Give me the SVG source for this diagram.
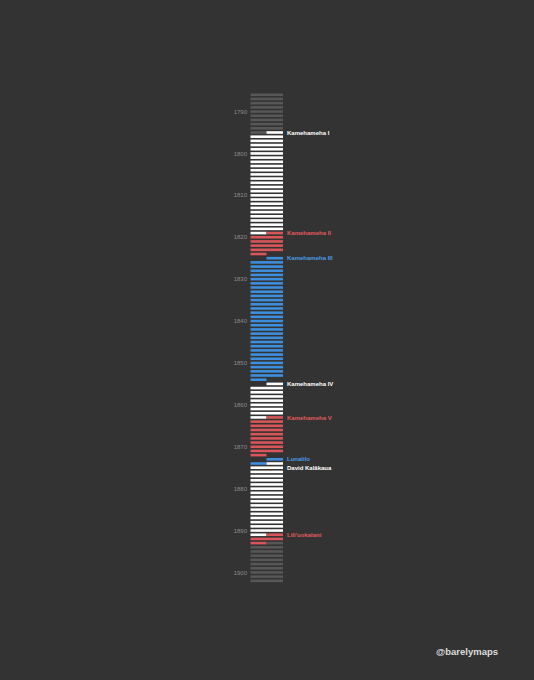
<svg xmlns="http://www.w3.org/2000/svg" width="534" height="680" viewBox="0 0 534 680">
<style>
.g{fill:#575757}.w{fill:#ffffff}.r{fill:#d8555a}.b{fill:#3d8fdd}
.yr{font-family:"Liberation Sans",Arial,sans-serif;font-size:6px;fill:#8c8c8c;text-anchor:end}
.nm{font-family:"Liberation Sans",Arial,sans-serif;font-size:6px;font-weight:bold}
.tw{fill:#ffffff}.tr{fill:#e05a5e}.tb{fill:#4a9be6}
</style>
<rect x="0" y="0" width="534" height="680" fill="#333333"/>
<g id="timeline" transform="translate(0,131.2) scale(1,4.19)">
<g id="pre-kingdom">
<rect class="g" x="250.5" y="-9" width="32.5" height="0.62"/>
<rect class="g" x="250.5" y="-8" width="32.5" height="0.62"/>
<rect class="g" x="250.5" y="-7" width="32.5" height="0.62"/>
<rect class="g" x="250.5" y="-6" width="32.5" height="0.62"/>
<rect class="g" x="250.5" y="-5" width="32.5" height="0.62"/>
<rect class="g" x="250.5" y="-4" width="32.5" height="0.62"/>
<rect class="g" x="250.5" y="-3" width="32.5" height="0.62"/>
<rect class="g" x="250.5" y="-2" width="32.5" height="0.62"/>
<rect class="g" x="250.5" y="-1" width="32.5" height="0.62"/>
<rect class="g" x="250.5" y="0" width="16" height="0.62"/>
</g>
<g id="kamehameha-i">
<rect class="w" x="266.5" y="0" width="16.5" height="0.62"/>
<rect class="w" x="250.5" y="1" width="32.5" height="0.62"/>
<rect class="w" x="250.5" y="2" width="32.5" height="0.62"/>
<rect class="w" x="250.5" y="3" width="32.5" height="0.62"/>
<rect class="w" x="250.5" y="4" width="32.5" height="0.62"/>
<rect class="w" x="250.5" y="5" width="32.5" height="0.62"/>
<rect class="w" x="250.5" y="6" width="32.5" height="0.62"/>
<rect class="w" x="250.5" y="7" width="32.5" height="0.62"/>
<rect class="w" x="250.5" y="8" width="32.5" height="0.62"/>
<rect class="w" x="250.5" y="9" width="32.5" height="0.62"/>
<rect class="w" x="250.5" y="10" width="32.5" height="0.62"/>
<rect class="w" x="250.5" y="11" width="32.5" height="0.62"/>
<rect class="w" x="250.5" y="12" width="32.5" height="0.62"/>
<rect class="w" x="250.5" y="13" width="32.5" height="0.62"/>
<rect class="w" x="250.5" y="14" width="32.5" height="0.62"/>
<rect class="w" x="250.5" y="15" width="32.5" height="0.62"/>
<rect class="w" x="250.5" y="16" width="32.5" height="0.62"/>
<rect class="w" x="250.5" y="17" width="32.5" height="0.62"/>
<rect class="w" x="250.5" y="18" width="32.5" height="0.62"/>
<rect class="w" x="250.5" y="19" width="32.5" height="0.62"/>
<rect class="w" x="250.5" y="20" width="32.5" height="0.62"/>
<rect class="w" x="250.5" y="21" width="32.5" height="0.62"/>
<rect class="w" x="250.5" y="22" width="32.5" height="0.62"/>
<rect class="w" x="250.5" y="23" width="32.5" height="0.62"/>
<rect class="w" x="250.5" y="24" width="16" height="0.62"/>
</g>
<g id="kamehameha-ii">
<rect class="r" x="266.5" y="24" width="16.5" height="0.62"/>
<rect class="r" x="250.5" y="25" width="32.5" height="0.62"/>
<rect class="r" x="250.5" y="26" width="32.5" height="0.62"/>
<rect class="r" x="250.5" y="27" width="32.5" height="0.62"/>
<rect class="r" x="250.5" y="28" width="32.5" height="0.62"/>
<rect class="r" x="250.5" y="29" width="16" height="0.62"/>
</g>
<g id="kamehameha-iii">
<rect class="b" x="266.5" y="30" width="16.5" height="0.62"/>
<rect class="b" x="250.5" y="31" width="32.5" height="0.62"/>
<rect class="b" x="250.5" y="32" width="32.5" height="0.62"/>
<rect class="b" x="250.5" y="33" width="32.5" height="0.62"/>
<rect class="b" x="250.5" y="34" width="32.5" height="0.62"/>
<rect class="b" x="250.5" y="35" width="32.5" height="0.62"/>
<rect class="b" x="250.5" y="36" width="32.5" height="0.62"/>
<rect class="b" x="250.5" y="37" width="32.5" height="0.62"/>
<rect class="b" x="250.5" y="38" width="32.5" height="0.62"/>
<rect class="b" x="250.5" y="39" width="32.5" height="0.62"/>
<rect class="b" x="250.5" y="40" width="32.5" height="0.62"/>
<rect class="b" x="250.5" y="41" width="32.5" height="0.62"/>
<rect class="b" x="250.5" y="42" width="32.5" height="0.62"/>
<rect class="b" x="250.5" y="43" width="32.5" height="0.62"/>
<rect class="b" x="250.5" y="44" width="32.5" height="0.62"/>
<rect class="b" x="250.5" y="45" width="32.5" height="0.62"/>
<rect class="b" x="250.5" y="46" width="32.5" height="0.62"/>
<rect class="b" x="250.5" y="47" width="32.5" height="0.62"/>
<rect class="b" x="250.5" y="48" width="32.5" height="0.62"/>
<rect class="b" x="250.5" y="49" width="32.5" height="0.62"/>
<rect class="b" x="250.5" y="50" width="32.5" height="0.62"/>
<rect class="b" x="250.5" y="51" width="32.5" height="0.62"/>
<rect class="b" x="250.5" y="52" width="32.5" height="0.62"/>
<rect class="b" x="250.5" y="53" width="32.5" height="0.62"/>
<rect class="b" x="250.5" y="54" width="32.5" height="0.62"/>
<rect class="b" x="250.5" y="55" width="32.5" height="0.62"/>
<rect class="b" x="250.5" y="56" width="32.5" height="0.62"/>
<rect class="b" x="250.5" y="57" width="32.5" height="0.62"/>
<rect class="b" x="250.5" y="58" width="32.5" height="0.62"/>
<rect class="b" x="250.5" y="59" width="16" height="0.62"/>
</g>
<g id="kamehameha-iv">
<rect class="w" x="266.5" y="60" width="16.5" height="0.62"/>
<rect class="w" x="250.5" y="61" width="32.5" height="0.62"/>
<rect class="w" x="250.5" y="62" width="32.5" height="0.62"/>
<rect class="w" x="250.5" y="63" width="32.5" height="0.62"/>
<rect class="w" x="250.5" y="64" width="32.5" height="0.62"/>
<rect class="w" x="250.5" y="65" width="32.5" height="0.62"/>
<rect class="w" x="250.5" y="66" width="32.5" height="0.62"/>
<rect class="w" x="250.5" y="67" width="32.5" height="0.62"/>
<rect class="w" x="250.5" y="68" width="16" height="0.62"/>
</g>
<g id="kamehameha-v">
<rect class="r" x="266.5" y="68" width="16.5" height="0.62"/>
<rect class="r" x="250.5" y="69" width="32.5" height="0.62"/>
<rect class="r" x="250.5" y="70" width="32.5" height="0.62"/>
<rect class="r" x="250.5" y="71" width="32.5" height="0.62"/>
<rect class="r" x="250.5" y="72" width="32.5" height="0.62"/>
<rect class="r" x="250.5" y="73" width="32.5" height="0.62"/>
<rect class="r" x="250.5" y="74" width="32.5" height="0.62"/>
<rect class="r" x="250.5" y="75" width="32.5" height="0.62"/>
<rect class="r" x="250.5" y="76" width="32.5" height="0.62"/>
<rect class="r" x="250.5" y="77" width="16" height="0.62"/>
</g>
<g id="lunalilo">
<rect class="b" x="266.5" y="78" width="16.5" height="0.62"/>
<rect class="b" x="250.5" y="79" width="16" height="0.62"/>
</g>
<g id="kalakaua">
<rect class="w" x="266.5" y="79" width="16.5" height="0.62"/>
<rect class="w" x="250.5" y="80" width="32.5" height="0.62"/>
<rect class="w" x="250.5" y="81" width="32.5" height="0.62"/>
<rect class="w" x="250.5" y="82" width="32.5" height="0.62"/>
<rect class="w" x="250.5" y="83" width="32.5" height="0.62"/>
<rect class="w" x="250.5" y="84" width="32.5" height="0.62"/>
<rect class="w" x="250.5" y="85" width="32.5" height="0.62"/>
<rect class="w" x="250.5" y="86" width="32.5" height="0.62"/>
<rect class="w" x="250.5" y="87" width="32.5" height="0.62"/>
<rect class="w" x="250.5" y="88" width="32.5" height="0.62"/>
<rect class="w" x="250.5" y="89" width="32.5" height="0.62"/>
<rect class="w" x="250.5" y="90" width="32.5" height="0.62"/>
<rect class="w" x="250.5" y="91" width="32.5" height="0.62"/>
<rect class="w" x="250.5" y="92" width="32.5" height="0.62"/>
<rect class="w" x="250.5" y="93" width="32.5" height="0.62"/>
<rect class="w" x="250.5" y="94" width="32.5" height="0.62"/>
<rect class="w" x="250.5" y="95" width="32.5" height="0.62"/>
<rect class="w" x="250.5" y="96" width="16" height="0.62"/>
</g>
<g id="liliuokalani">
<rect class="r" x="266.5" y="96" width="16.5" height="0.62"/>
<rect class="r" x="250.5" y="97" width="32.5" height="0.62"/>
<rect class="r" x="250.5" y="98" width="16" height="0.62"/>
</g>
<g id="post-kingdom">
<rect class="g" x="266.5" y="98" width="16.5" height="0.62"/>
<rect class="g" x="250.5" y="99" width="32.5" height="0.62"/>
<rect class="g" x="250.5" y="100" width="32.5" height="0.62"/>
<rect class="g" x="250.5" y="101" width="32.5" height="0.62"/>
<rect class="g" x="250.5" y="102" width="32.5" height="0.62"/>
<rect class="g" x="250.5" y="103" width="32.5" height="0.62"/>
<rect class="g" x="250.5" y="104" width="32.5" height="0.62"/>
<rect class="g" x="250.5" y="105" width="32.5" height="0.62"/>
<rect class="g" x="250.5" y="106" width="32.5" height="0.62"/>
<rect class="g" x="250.5" y="107" width="32.5" height="0.62"/>
</g>
</g>
<g id="year-labels">
<text class="yr" x="247" y="113.6">1790</text>
<text class="yr" x="247" y="155.5">1800</text>
<text class="yr" x="247" y="197.4">1810</text>
<text class="yr" x="247" y="239.3">1820</text>
<text class="yr" x="247" y="281.2">1830</text>
<text class="yr" x="247" y="323.1">1840</text>
<text class="yr" x="247" y="365">1850</text>
<text class="yr" x="247" y="406.9">1860</text>
<text class="yr" x="247" y="448.8">1870</text>
<text class="yr" x="247" y="490.7">1880</text>
<text class="yr" x="247" y="532.6">1890</text>
<text class="yr" x="247" y="574.5">1900</text>
</g>
<g id="name-labels">
<text class="nm tw" x="287" y="134.6">Kamehameha I</text>
<text class="nm tr" x="287" y="235.2">Kamehameha II</text>
<text class="nm tb" x="287" y="260.3">Kamehameha III</text>
<text class="nm tw" x="287" y="386">Kamehameha IV</text>
<text class="nm tr" x="287" y="419.5">Kamehameha V</text>
<text class="nm tb" x="287" y="461.4">Lunalilo</text>
<text class="nm tw" x="287" y="469.8">David Kalākaua</text>
<text class="nm tr" x="287" y="536.8">Lili'uokalani</text>
</g>
<text id="credit" x="436" y="654.5" font-family="'Liberation Sans',Arial,sans-serif" font-size="9.5" font-weight="bold" fill="#dddddd">@barelymaps</text>
</svg>
